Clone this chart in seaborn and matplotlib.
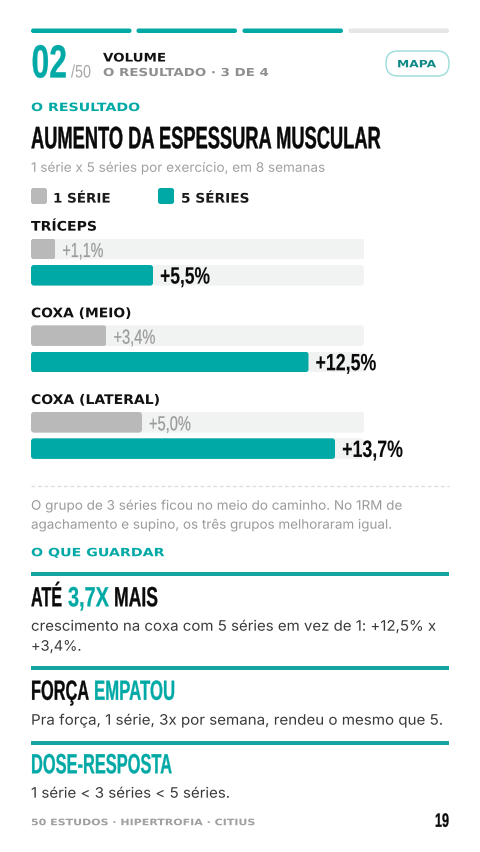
import matplotlib
matplotlib.use("Agg")
import matplotlib.pyplot as plt
from matplotlib.patches import FancyBboxPatch
from matplotlib.patheffects import AbstractPathEffect
from matplotlib.text import Text
from matplotlib.transforms import Affine2D, Bbox
import pandas as pd
import seaborn as sns

sns.set_theme(style="white")

TEAL = "#00a9a5"
RULE = "#14a5a2"
GRAY_BAR = "#b9b9b9"
TRACK = "#f1f3f2"
COND = ["Liberation Sans", "DejaVu Sans"]
CAPS = ["DejaVu Sans"]
BODY = ["Inter", "DejaVu Sans"]

groups = ["TRÍCEPS", "COXA (MEIO)", "COXA (LATERAL)"]
series_names = ["1 SÉRIE", "5 SÉRIES"]
one_set = [1.1, 3.4, 5.0]
five_sets = [5.5, 12.5, 13.7]
axis_max = 15
value_labels_one = ["+1,1%", "+3,4%", "+5,0%"]
value_labels_five = ["+5,5%", "+12,5%", "+13,7%"]

df = pd.DataFrame({
    "grupo": groups * 2,
    "serie": [series_names[0]] * 3 + [series_names[1]] * 3,
    "valor": one_set + five_sets,
})
track_df = df.assign(valor=axis_max)

W, H = 480, 853
fig = plt.figure(figsize=(W / 100, H / 100), dpi=100, facecolor="white")
ov = fig.add_axes([0, 0, 1, 1], zorder=3)
ov.set_xlim(0, W)
ov.set_ylim(H, 0)
ov.set_axis_off()
renderer = fig.canvas.get_renderer()


class Squeeze(AbstractPathEffect):
    """Draw text glyphs stretched horizontally about their origin (text stays real text)."""

    def __init__(self, sx, grow=0.0):
        super().__init__()
        self.sx, self.grow = sx, grow

    def draw_path(self, renderer, gc, tpath, affine, rgbFace=None):
        gc0 = renderer.new_gc()
        gc0.copy_properties(gc)
        gc0.set_linewidth(self.grow)
        if rgbFace is not None:
            gc0.set_foreground(rgbFace)
        renderer.draw_path(gc0, tpath, Affine2D().scale(self.sx, 1) + affine, rgbFace)
        gc0.restore()


class FitText(Text):
    sx = 1.0

    def _get_layout(self, renderer):
        result = super()._get_layout(renderer)
        bb = result[0]
        return (Bbox.from_bounds(bb.x0, bb.y0, bb.width * self.sx, bb.height), *result[1:])


def T(x0, x1, y, s, size, color, family=BODY, weight="normal", grow=0.0):
    t = FitText(x0, y, s, fontsize=size, color=color, family=family, fontweight=weight,
                ha="left", va="baseline")
    ov.add_artist(t)
    natural = t.get_window_extent(renderer).width
    t.sx = (x1 - x0) / natural
    t.set_path_effects([Squeeze(t.sx, grow)])
    return t


def rbox(x0, y0, x1, y1, r, fc, ec="none", lw=0):
    p = FancyBboxPatch((x0 + r, y0 + r), x1 - x0 - 2 * r, y1 - y0 - 2 * r,
                       boxstyle=f"round,pad={r},rounding_size={r}",
                       fc=fc, ec=ec, lw=lw)
    ov.add_patch(p)
    return p


# progress
for (a, b), c in zip([(31, 131.5), (136.5, 237), (242.5, 343), (348.5, 449)],
                     [TEAL, TEAL, TEAL, "#e6e6e6"]):
    rbox(a, 29.5, b, 34, 2.2, c)

# header
T(31.5, 67, 78.5, "02", 33.5, TEAL, COND, "bold", 0.2)
T(71, 91, 78.5, "/50", 13, "#a8a8a8", COND)
T(103, 166, 62.5, "VOLUME", 8.5, "#111111", CAPS, "bold")
T(103, 269, 77, "O RESULTADO · 3 DE 4", 7.9, "#8f8f8f", CAPS, "bold")
rbox(386, 52, 449, 77, 12, "white", "#9adbd8", 1)
T(397, 436, 68.3, "MAPA", 7.2, "#0f8a87", CAPS, "bold")

T(31, 140, 112, "O RESULTADO", 8.2, TEAL, CAPS, "bold")
T(31, 381, 149.3, "AUMENTO DA ESPESSURA MUSCULAR", 22.4, "#0a0a0a", COND, "bold", 0.25)
T(31, 323, 172.8, "1 série x 5 séries por exercício, em 8 semanas", 9.4, "#a0a0a0")

# legend
rbox(31, 189, 47, 205, 2.5, GRAY_BAR)
T(53, 111, 203.6, series_names[0], 9.5, "#1a1a1a", CAPS, "bold")
rbox(158, 189, 174, 205, 2.5, TEAL)
T(181, 250, 203.6, series_names[1], 9.5, "#1a1a1a", CAPS, "bold")

# bars
ax = fig.add_axes([31 / W, (H - 479.8) / H, 333 / W, 260 / H], zorder=1)
ax.patch.set_alpha(0)
common = dict(y="grupo", x="valor", hue="serie", order=groups, hue_order=series_names,
              orient="h", width=0.607, gap=0.217, saturation=1, legend=False,
              linewidth=0, ax=ax)
sns.barplot(data=track_df, palette={series_names[0]: TRACK, series_names[1]: TRACK}, **common)
sns.barplot(data=df, palette={series_names[0]: GRAY_BAR, series_names[1]: TEAL}, **common)
ax.set_xlim(0, axis_max)
ax.set_ylim(2.5, -0.5)
ax.set_axis_off()

to_px = ax.transData + ov.transData.inverted()
for bar in ax.patches:
    if bar.get_width() <= 0:
        continue
    (px0, py0), (px1, py1) = to_px.transform(
        [(bar.get_x(), bar.get_y()), (bar.get_x() + bar.get_width(), bar.get_y() + bar.get_height())])
    top, bot = min(py0, py1), max(py0, py1)
    r = 3
    clip = FancyBboxPatch((px0 + r, top + r), px1 - px0 - 2 * r, bot - top - 2 * r,
                          boxstyle=f"round,pad={r},rounding_size={r}",
                          transform=ov.transData)
    bar.set_clip_path(clip)

offs = 0.3035 / 2
group_label_w = [66.5, 101, 130]
one_label_w = [41, 42, 42]
five_label_w = [50, 61, 61]
for i, g in enumerate(groups):
    gy = to_px.transform((0, i - 0.419))[1] + 4.8
    T(31, 31 + group_label_w[i], gy, g, 9.5, "#111111", CAPS, "bold")
    x, y = to_px.transform((one_set[i], i - offs))
    T(x + 7, x + 7 + one_label_w[i], y + 8, value_labels_one[i], 14.6, "#9a9a9a", COND, "normal", 0.15)
    x, y = to_px.transform((five_sets[i], i + offs))
    T(x + 7, x + 7 + five_label_w[i], y + 8.3, value_labels_five[i], 17, "#0a0a0a", COND, "bold", 0.05)

# note
ov.plot([31, 449], [487, 487], color="#dddddd", lw=0.9, ls=(0, (3, 2.2)))
T(31, 399, 510.7, "O grupo de 3 séries ficou no meio do caminho. No 1RM de", 9.4, "#9a9a9a")
T(31, 390, 529.7, "agachamento e supino, os três grupos melhoraram igual.", 9.4, "#9a9a9a")
T(31, 164, 557.2, "O QUE GUARDAR", 8.2, TEAL, CAPS, "bold")

# takeaways
for top in (573, 667.3, 741.7):
    ov.fill_between([31, 449], top, top + 4, color=RULE, lw=0)

T(31, 62, 607.3, "ATÉ", 20, "#0a0a0a", COND, "bold", 0.2)
T(68, 109, 607.3, "3,7X", 20, TEAL, COND, "bold", 0.2)
T(114, 158, 607.3, "MAIS", 20, "#0a0a0a", COND, "bold", 0.2)
T(31, 436, 631.7, "crescimento na coxa com 5 séries em vez de 1: +12,5% x", 10.4, "#3a3a3a")
T(31, 81.5, 651.7, "+3,4%.", 10.4, "#3a3a3a")

T(31, 89, 700.8, "FORÇA", 20, "#0a0a0a", COND, "bold", 0.2)
T(94, 175, 700.8, "EMPATOU", 20, TEAL, COND, "bold", 0.2)
T(31, 443, 725.7, "Pra força, 1 série, 3x por semana, rendeu o mesmo que 5.", 10.4, "#3a3a3a")

T(31, 172, 774.3, "DOSE-RESPOSTA", 20, TEAL, COND, "bold", 0.2)
T(31, 230, 798.7, "1 série < 3 séries < 5 séries.", 10.4, "#3a3a3a")

# footer
T(31, 257, 826.2, "50 ESTUDOS · HIPERTROFIA · CITIUS", 6.4, "#a0a0a0", CAPS, "bold")
T(435, 449, 827.8, "19", 14, "#0a0a0a", COND, "bold", 0.2)

fig.savefig("out.png", dpi=100, facecolor="white")
